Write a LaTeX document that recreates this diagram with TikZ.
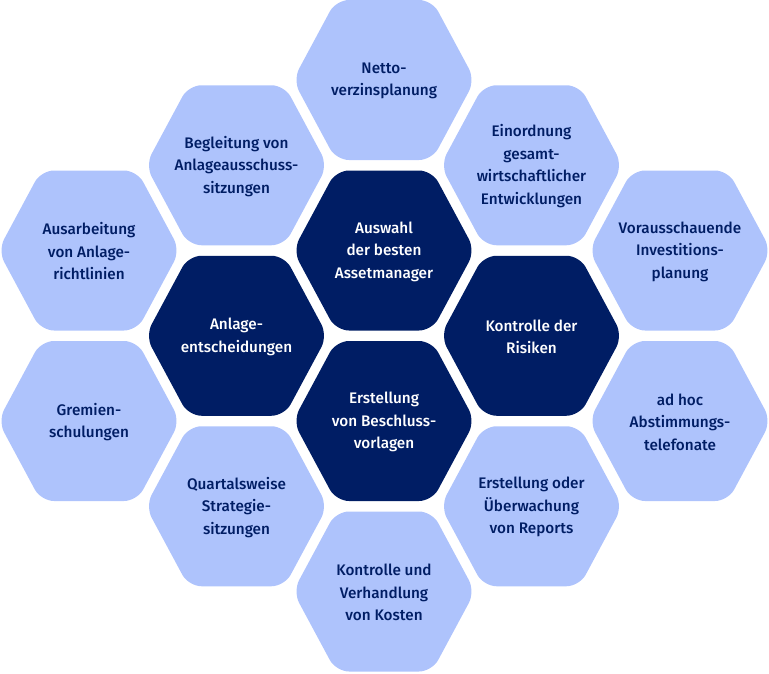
\documentclass[tikz,border=0pt]{standalone}
\usepackage{fontspec}
\setmainfont{Fira Sans}[UprightFont=* Medium]
\definecolor{hexlight}{RGB}{174,195,252}
\definecolor{hexdark}{RGB}{0,29,100}
\begin{document}
\begin{tikzpicture}[x=1pt,y=-1pt,
  hexshape/.style={rounded corners=13pt},
  lighthex/.pic={\fill[hexlight,hexshape] (-91,0) -- (-48,-80) -- (48,-80) -- (91,0) -- (48,80) -- (-48,80) -- cycle;},
  darkhex/.pic={\fill[hexdark,hexshape] (-91,0) -- (-48,-80) -- (48,-80) -- (91,0) -- (48,80) -- (-48,80) -- cycle;},
  txt/.style={align=center,inner sep=0pt,font=\fontsize{15.3}{22.5}\selectfont},
  ltxt/.style={txt,text=hexdark},
  dtxt/.style={txt,text=white}]
\useasboundingbox (0,0) rectangle (769,673);
% column 1
\pic at (89,250.5) {lighthex};
\node[ltxt] (ausarbeitung) at (89,251.5) {Ausarbeitung\\von Anlage-\\richtlinien};
\pic at (89,421) {lighthex};
\node[ltxt] (gremien) at (89,422) {Gremien-\\schulungen};
% column 2
\pic at (236.5,165.25) {lighthex};
\node[ltxt] (begleitung) at (236.5,166.25) {Begleitung von\\Anlageausschuss-\\sitzungen};
\pic at (236.5,335.75) {darkhex};
\node[dtxt] (anlage) at (236.5,336.75) {Anlage-\\entscheidungen};
\pic at (236.5,506.25) {lighthex};
\node[ltxt] (quartal) at (236.5,507.25) {Quartalsweise\\Strategie-\\sitzungen};
% column 3
\pic at (384,80) {lighthex};
\node[ltxt] (netto) at (384,81) {Netto-\\verzinsplanung};
\pic at (384,250.5) {darkhex};
\node[dtxt] (auswahl) at (384,251.5) {Auswahl\\der besten\\Assetmanager};
\pic at (384,421) {darkhex};
\node[dtxt] (beschluss) at (384,422) {Erstellung\\von Beschluss-\\vorlagen};
\pic at (384,591.5) {lighthex};
\node[ltxt] (kosten) at (384,592.5) {Kontrolle und\\Verhandlung\\von Kosten};
% column 4
\pic at (531.5,165.25) {lighthex};
\node[ltxt] (einordnung) at (531.5,166.25) {Einordnung\\gesamt-\\wirtschaftlicher\\Entwicklungen};
\pic at (531.5,335.75) {darkhex};
\node[dtxt] (risiken) at (531.5,336.75) {Kontrolle der\\Risiken};
\pic at (531.5,506.25) {lighthex};
\node[ltxt] (reports) at (531.5,507.25) {Erstellung oder\\Überwachung\\von Reports};
% column 5
\pic at (680,250.5) {lighthex};
\node[ltxt] (voraus) at (680,251.5) {Vorausschauende\\Investitions-\\planung};
\pic at (680,421) {lighthex};
\node[ltxt] (adhoc) at (680,422) {ad hoc\\Abstimmungs-\\telefonate};
\end{tikzpicture}
\end{document}
